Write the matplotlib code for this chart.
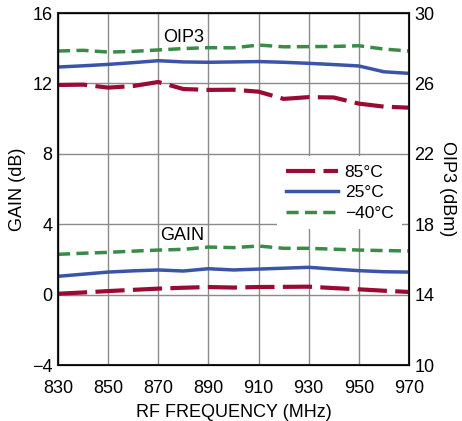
import matplotlib
matplotlib.use("Agg")
import matplotlib.pyplot as plt

plt.rcParams["font.family"] = ["Liberation Sans", "DejaVu Sans"]

freq = [830, 840, 850, 860, 870, 880, 890, 900, 910, 920, 930, 940, 950, 960, 970]

# OIP3 curves, in left-axis units (OIP3 dBm - 14)
oip3_85 = [11.91, 11.93, 11.76, 11.85, 12.08, 11.68, 11.63, 11.64, 11.53, 11.12, 11.22, 11.20, 10.85, 10.68, 10.62]
oip3_25 = [12.93, 13.00, 13.08, 13.18, 13.29, 13.22, 13.20, 13.22, 13.24, 13.20, 13.14, 13.07, 12.99, 12.66, 12.57]
oip3_m40 = [13.84, 13.88, 13.78, 13.82, 13.90, 13.98, 14.03, 14.02, 14.18, 14.08, 14.09, 14.10, 14.14, 13.95, 13.84]

# gain curves, dB
gain_85 = [0.05, 0.12, 0.20, 0.27, 0.34, 0.39, 0.43, 0.40, 0.43, 0.44, 0.45, 0.37, 0.30, 0.22, 0.15]
gain_25 = [1.04, 1.16, 1.28, 1.35, 1.40, 1.34, 1.47, 1.40, 1.45, 1.50, 1.55, 1.45, 1.36, 1.30, 1.28]
gain_m40 = [2.29, 2.35, 2.40, 2.47, 2.53, 2.57, 2.70, 2.67, 2.76, 2.63, 2.63, 2.58, 2.53, 2.50, 2.48]

red = "#9a0a32"
blue = "#3a55a8"
green = "#3a8a48"

fig = plt.figure(figsize=(4.62, 4.21), dpi=100)
ax = fig.add_axes([58/462, 1-365/421, 351/462, 352/421])

l1, = ax.plot(freq, gain_85, color=red, lw=3, dashes=(7, 2), label="85°C")
l2, = ax.plot(freq, gain_25, color=blue, lw=2.5, label="25°C")
l3, = ax.plot(freq, gain_m40, color=green, lw=2.5, dashes=(3.5, 1.8), label="\u221240°C")
ax.plot(freq, oip3_85, color=red, lw=3, dashes=(7, 2))
ax.plot(freq, oip3_25, color=blue, lw=2.5)
ax.plot(freq, oip3_m40, color=green, lw=2.5, dashes=(3.5, 1.8))

ax.set_xlim(830, 970)
ax.set_ylim(-4, 16)
ax.set_xticks(range(830, 971, 20))
ax.set_yticks(range(-4, 17, 4))
ax.set_yticklabels(["\u22124", "0", "4", "8", "12", "16"])
ax.grid(True, color="#8a8a8a", lw=1)
ax.set_axisbelow(True)
ax.tick_params(axis="y", length=0, labelsize=13, pad=4)
ax.tick_params(axis="x", length=0, labelsize=13, pad=11)
for s in ax.spines.values():
    s.set_linewidth(1.5)
    s.set_color("#222222")

ax2 = ax.twinx()
ax2.set_ylim(10, 30)
ax2.set_yticks(range(10, 31, 4))
ax2.tick_params(length=0, labelsize=13, pad=4)

ax.set_xlabel("RF FREQUENCY (MHz)", fontsize=13, labelpad=5)
ax.set_ylabel("GAIN (dB)", fontsize=13, labelpad=4)
ax2.set_ylabel("OIP3 (dBm)", fontsize=13, rotation=270, labelpad=15)

ax.text(880, 14.6, "OIP3", fontsize=13, ha="center", va="center")
ax.text(879.5, 3.33, "GAIN", fontsize=13, ha="center", va="center")

leg = ax.legend(handles=[l1, l2, l3], loc="center right", bbox_to_anchor=(1.005, 0.489),
                frameon=True, fontsize=12.5, handlelength=3.0, handletextpad=0.4,
                labelspacing=0.3, borderpad=0.5, fancybox=False)
leg.get_frame().set_edgecolor("none")
leg.get_frame().set_facecolor("white")
leg.get_frame().set_alpha(1)

fig.savefig("out.png", dpi=100)
